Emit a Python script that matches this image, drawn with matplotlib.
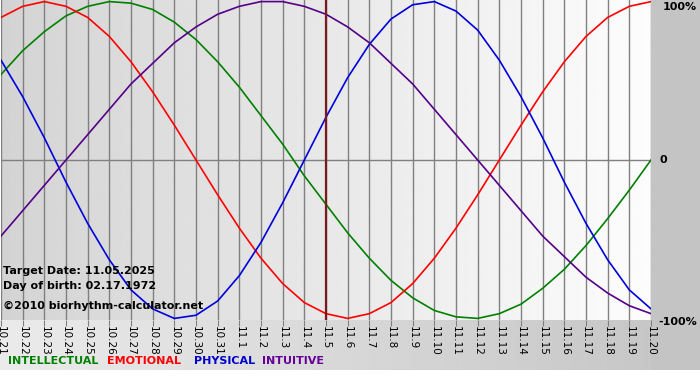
import numpy as np
import matplotlib
matplotlib.use("Agg")
import matplotlib.pyplot as plt

dates = ["10.21", "10.22", "10.23", "10.24", "10.25", "10.26", "10.27", "10.28",
         "10.29", "10.30", "10.31", "11.1", "11.2", "11.3", "11.4", "11.5",
         "11.6", "11.7", "11.8", "11.9", "11.10", "11.11", "11.12", "11.13",
         "11.14", "11.15", "11.16", "11.17", "11.18", "11.19", "11.20"]

physical = [0.63, 0.40, 0.14, -0.14, -0.40, -0.63, -0.82, -0.94, -1.00, -0.98,
            -0.89, -0.73, -0.52, -0.27, 0.00, 0.27, 0.52, 0.73, 0.89, 0.98,
            1.00, 0.94, 0.82, 0.63, 0.40, 0.14, -0.14, -0.40, -0.63, -0.82, -0.94]
emotional = [0.90, 0.97, 1.00, 0.97, 0.90, 0.78, 0.62, 0.43, 0.22, 0.00,
             -0.22, -0.43, -0.62, -0.78, -0.90, -0.97, -1.00, -0.97, -0.90, -0.78,
             -0.62, -0.43, -0.22, 0.00, 0.22, 0.43, 0.62, 0.78, 0.90, 0.97, 1.00]
intellectual = [0.54, 0.69, 0.81, 0.91, 0.97, 1.00, 0.99, 0.95, 0.87, 0.76,
                0.62, 0.46, 0.28, 0.10, -0.10, -0.28, -0.46, -0.62, -0.76, -0.87,
                -0.95, -0.99, -1.00, -0.97, -0.91, -0.81, -0.69, -0.54, -0.37, -0.19, 0.00]
intuitive = [-0.48, -0.32, -0.16, 0.00, 0.16, 0.32, 0.48, 0.61, 0.74, 0.84,
             0.92, 0.97, 1.00, 1.00, 0.97, 0.92, 0.84, 0.74, 0.61, 0.48,
             0.32, 0.16, 0.00, -0.16, -0.32, -0.48, -0.61, -0.74, -0.84, -0.92, -0.97]

target_idx = 15
info = ["Target Date: 11.05.2025", "Day of birth: 02.17.1972"]

W, H = 700, 380
fig = plt.figure(figsize=(7, 3.8), dpi=100)
fig.patch.set_facecolor("white")

# background panels (pixel coords)
bg = fig.add_axes([0, 0, 1, 1])
bg.set_xlim(0, W)
bg.set_ylim(H, 0)
bg.axis("off")
grad = np.linspace(0.92, 0.78, 256)[None, :]
bg.imshow(grad, extent=[0, 651, 370, 320], cmap="gray", vmin=0, vmax=1, aspect="auto")
bg.add_patch(plt.Rectangle((651, 0), 49, 370, color="#c4c4c4", lw=0))

ax = fig.add_axes([1 / W, 1 - 320 / H, 650 / W, 320 / H])
x = np.arange(len(dates))
ax.set_xlim(0, len(dates) - 1)
ax.set_ylim(-1.01, 1.01)
pg = np.linspace(0.83, 0.99, 256)[None, :]
ax.imshow(pg, extent=[0, len(dates) - 1, -1.01, 1.01], cmap="gray", vmin=0, vmax=1,
          aspect="auto", zorder=0)
for xi in x:
    ax.axvline(xi, color="#808080", lw=1, zorder=1)
ax.axhline(0, color="#808080", lw=1, zorder=1)

ax.plot(x, intellectual, color="#008000", lw=1.2, zorder=3)
ax.plot(x, emotional, color="#ff0000", lw=1.2, zorder=3)
ax.plot(x, physical, color="#0000dd", lw=1.2, zorder=3)
ax.plot(x, intuitive, color="#550088", lw=1.2, zorder=3)
ax.axvline(target_idx, color="#7a1a1a", lw=1.6, zorder=4)

for s in ax.spines.values():
    s.set_visible(False)
ax.set_yticks([])
ax.set_xticks(x)
ax.set_xticklabels(dates, rotation=-90, fontsize=7.5)
ax.tick_params(axis="x", length=4, color="#808080", pad=0)

for i, t in enumerate(info):
    fig.text(3 / W, 1 - (271 + 15 * i) / H, t, fontsize=8, fontweight="bold",
             va="center", ha="left")
fig.text(3 / W, 1 - 306 / H, "\u00a92010 biorhythm-calculator.net", fontsize=8,
         fontweight="bold", va="center", ha="left")

fig.text(697 / W, 1 - 7 / H, "100%", fontsize=8, fontweight="bold", ha="right", va="center")
fig.text(660 / W, 1 - 160 / H, "0", fontsize=8, fontweight="bold", ha="left", va="center")
fig.text(697 / W, 1 - 322 / H, "-100%", fontsize=8, fontweight="bold", ha="right", va="center")

legend = [("INTELLECTUAL", "#008000"), ("EMOTIONAL", "#ff0000"),
          ("PHYSICAL", "#0000cc"), ("INTUITIVE", "#660099")]
xs = [8, 107, 194, 262]
for (name, c), px in zip(legend, xs):
    fig.text(px / W, 1 - 361 / H, name, fontsize=8, fontweight="bold", color=c,
             ha="left", va="center")

fig.savefig("out.png", dpi=100)
